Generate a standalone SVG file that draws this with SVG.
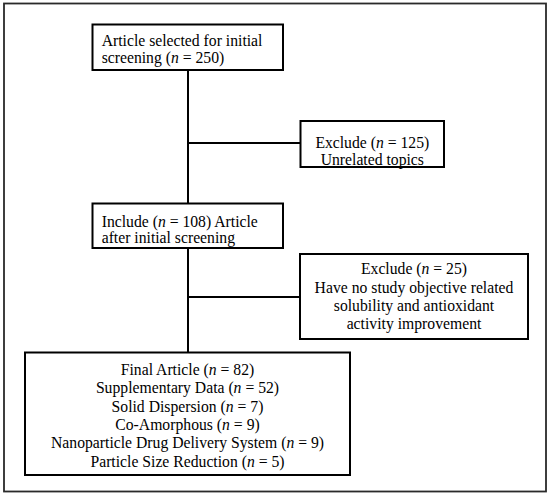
<svg xmlns="http://www.w3.org/2000/svg" width="550" height="498" viewBox="0 0 550 498">
<style>
.box{fill:#fff;stroke:#000;stroke-width:2}
.t{font-family:"Liberation Serif","Times New Roman",serif;font-size:15.7px;fill:#000}
.c{text-anchor:middle}
.conn{stroke:#000;stroke-width:2;fill:none}
</style>
<rect x="0" y="0" width="550" height="498" fill="#fff"/>
<rect id="frame" x="4" y="3.5" width="542" height="488" fill="none" stroke="#2a2a2a" stroke-width="1.8"/>
<g id="connectors">
<line class="conn" x1="188" y1="70" x2="188" y2="203.5"/>
<line class="conn" x1="188" y1="248" x2="188" y2="352.5"/>
<line class="conn" x1="188" y1="143" x2="300.5" y2="143"/>
<line class="conn" x1="188" y1="297" x2="300" y2="297"/>
</g>
<g id="n1">
<rect class="box" x="92.5" y="24.5" width="190.5" height="45.5"/>
<text class="t" x="101.7" y="46.4">Article selected for initial</text>
<text class="t" x="101.7" y="63">screening (<tspan font-style="italic">n</tspan> = 250)</text>
</g>
<g id="n2">
<rect class="box" x="300.5" y="121" width="143.5" height="46"/>
<text class="t c" x="372.3" y="147.8">Exclude (<tspan font-style="italic">n</tspan> = 125)</text>
<text class="t c" x="372.3" y="164.5">Unrelated topics</text>
</g>
<g id="n3">
<rect class="box" x="92.5" y="203.5" width="190.5" height="44.5"/>
<text class="t" x="101.7" y="226.9">Include (<tspan font-style="italic">n</tspan> = 108) Article</text>
<text class="t" x="101.7" y="243.2">after initial screening</text>
</g>
<g id="n4">
<rect class="box" x="300" y="254" width="228" height="85"/>
<text class="t c" transform="translate(414,274.3) scale(1,1.1)">Exclude (<tspan font-style="italic">n</tspan> = 25)</text>
<text class="t c" transform="translate(414,292.6) scale(1,1.1)">Have no study objective related</text>
<text class="t c" transform="translate(414,310.9) scale(1,1.1)">solubility and antioxidant</text>
<text class="t c" transform="translate(414,329.2) scale(1,1.1)">activity improvement</text>
</g>
<g id="n5">
<rect class="box" x="25" y="352.5" width="325" height="122.5"/>
<text class="t c" transform="translate(187.5,375) scale(1,1.1)">Final Article (<tspan font-style="italic">n</tspan> = 82)</text>
<text class="t c" transform="translate(187.5,393.3) scale(1,1.1)">Supplementary Data (<tspan font-style="italic">n</tspan> = 52)</text>
<text class="t c" transform="translate(187.5,411.6) scale(1,1.1)">Solid Dispersion (<tspan font-style="italic">n</tspan> = 7)</text>
<text class="t c" transform="translate(187.5,429.9) scale(1,1.1)">Co-Amorphous (<tspan font-style="italic">n</tspan> = 9)</text>
<text class="t c" transform="translate(187.5,448.2) scale(1,1.1)">Nanoparticle Drug Delivery System (<tspan font-style="italic">n</tspan> = 9)</text>
<text class="t c" transform="translate(187.5,466.5) scale(1,1.1)">Particle Size Reduction (<tspan font-style="italic">n</tspan> = 5)</text>
</g>
</svg>
